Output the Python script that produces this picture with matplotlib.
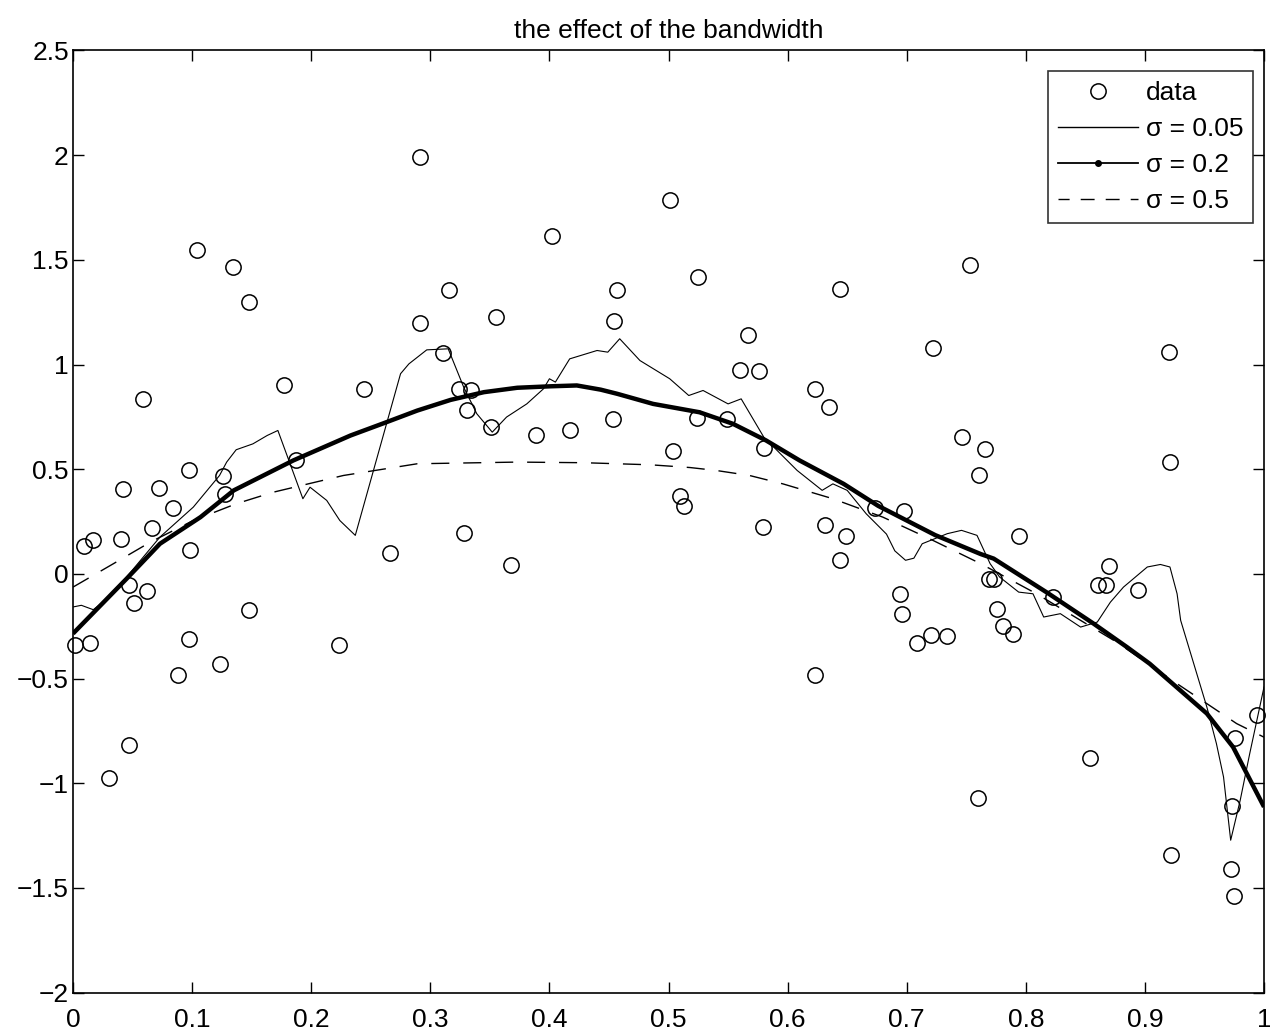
import matplotlib
matplotlib.use("Agg")
from matplotlib import pyplot as plt
from matplotlib.lines import Line2D

plt.rcParams['font.family'] = ['Liberation Sans', 'DejaVu Sans']

# noisy observations
data_x = [0.002, 0.009, 0.014, 0.017, 0.030, 0.040, 0.042, 0.047, 0.047, 0.051,
          0.059, 0.062, 0.066, 0.072, 0.084, 0.088, 0.097, 0.097, 0.098, 0.104,
          0.123, 0.126, 0.128, 0.134, 0.148, 0.148, 0.177, 0.187, 0.223, 0.244,
          0.266, 0.291, 0.291, 0.311, 0.316, 0.324, 0.328, 0.331, 0.334, 0.351,
          0.355, 0.368, 0.389, 0.402, 0.417, 0.453, 0.454, 0.457, 0.501, 0.504,
          0.510, 0.513, 0.524, 0.525, 0.549, 0.560, 0.567, 0.576, 0.579, 0.580,
          0.623, 0.623, 0.631, 0.635, 0.644, 0.644, 0.649, 0.673, 0.694, 0.696,
          0.698, 0.709, 0.720, 0.722, 0.734, 0.746, 0.753, 0.760, 0.761, 0.766,
          0.769, 0.773, 0.776, 0.781, 0.789, 0.794, 0.823, 0.854, 0.861, 0.867,
          0.870, 0.894, 0.920, 0.921, 0.922, 0.972, 0.973, 0.975, 0.976, 0.994]
data_y = [-0.341, 0.131, -0.330, 0.163, -0.973, 0.165, 0.407, -0.052, -0.819, -0.138,
          0.834, -0.084, 0.219, 0.410, 0.314, -0.481, 0.497, -0.310, 0.112, 1.548,
          -0.429, 0.467, 0.383, 1.468, 1.297, -0.171, 0.900, 0.542, -0.338, 0.882,
          0.099, 1.990, 1.197, 1.054, 1.357, 0.882, 0.195, 0.784, 0.876, 0.701,
          1.226, 0.041, 0.663, 1.612, 0.688, 0.741, 1.207, 1.358, 1.788, 0.585,
          0.371, 0.324, 0.746, 1.417, 0.741, 0.976, 1.142, 0.967, 0.224, 0.601,
          0.881, -0.484, 0.233, 0.798, 1.360, 0.066, 0.179, 0.316, -0.095, -0.193,
          0.302, -0.329, -0.290, 1.078, -0.297, 0.653, 1.476, -1.068, 0.472, 0.596,
          -0.023, -0.023, -0.168, -0.249, -0.289, 0.179, -0.111, -0.879, -0.052, -0.052,
          0.037, -0.079, 1.062, 0.534, -1.344, -1.410, -1.108, -1.538, -0.782, -0.675]

# sigma = 0.05 smoother
s005_x = [0.000, 0.007, 0.017, 0.025, 0.045, 0.073, 0.101, 0.123, 0.129, 0.137,
          0.151, 0.163, 0.172, 0.193, 0.199, 0.213, 0.224, 0.237, 0.275, 0.282,
          0.297, 0.315, 0.328, 0.339, 0.352, 0.364, 0.381, 0.395, 0.400, 0.405,
          0.417, 0.440, 0.449, 0.459, 0.476, 0.501, 0.517, 0.529, 0.550, 0.561,
          0.580, 0.608, 0.629, 0.638, 0.650, 0.666, 0.683, 0.690, 0.699, 0.706,
          0.713, 0.720, 0.734, 0.746, 0.759, 0.770, 0.778, 0.794, 0.806, 0.815,
          0.829, 0.846, 0.860, 0.871, 0.882, 0.902, 0.913, 0.921, 0.927, 0.930,
          0.941, 0.952, 0.960, 0.966, 0.972, 0.980, 0.988, 1.000]
s005_y = [-0.158, -0.150, -0.171, -0.135, -0.015, 0.176, 0.319, 0.470, 0.534, 0.593,
          0.621, 0.661, 0.685, 0.359, 0.414, 0.351, 0.255, 0.184, 0.956, 1.003,
          1.070, 1.075, 0.892, 0.765, 0.677, 0.749, 0.812, 0.884, 0.932, 0.916,
          1.027, 1.067, 1.059, 1.123, 1.019, 0.932, 0.852, 0.876, 0.812, 0.836,
          0.653, 0.494, 0.399, 0.430, 0.399, 0.287, 0.190, 0.110, 0.065, 0.075,
          0.144, 0.160, 0.192, 0.208, 0.184, 0.049, -0.015, -0.087, -0.095, -0.206,
          -0.190, -0.254, -0.230, -0.135, -0.063, 0.033, 0.045, 0.033, -0.095, -0.222,
          -0.429, -0.636, -0.810, -0.970, -1.272, -1.081, -0.858, -0.540]

# sigma = 0.2 smoother
s02_x = [0.000, 0.045, 0.073, 0.107, 0.135, 0.185, 0.233, 0.261, 0.289, 0.317,
         0.345, 0.373, 0.401, 0.423, 0.443, 0.457, 0.487, 0.526, 0.554, 0.582,
         0.610, 0.647, 0.676, 0.724, 0.762, 0.773, 0.818, 0.857, 0.885, 0.904,
         0.952, 0.974, 1.000]
s02_y = [-0.285, -0.023, 0.144, 0.271, 0.399, 0.542, 0.661, 0.720, 0.780, 0.831,
         0.868, 0.889, 0.896, 0.900, 0.880, 0.860, 0.812, 0.772, 0.717, 0.637,
         0.542, 0.430, 0.325, 0.185, 0.095, 0.073, -0.090, -0.238, -0.350, -0.429,
         -0.667, -0.827, -1.113]

# sigma = 0.5 smoother
s05_x = [0.000, 0.034, 0.065, 0.101, 0.137, 0.168, 0.227, 0.289, 0.373, 0.429,
         0.485, 0.518, 0.540, 0.568, 0.596, 0.638, 0.680, 0.722, 0.762, 0.809,
         0.876, 0.929, 0.977, 1.000]
s05_y = [-0.063, 0.049, 0.152, 0.255, 0.335, 0.390, 0.470, 0.526, 0.534, 0.531,
         0.521, 0.508, 0.494, 0.470, 0.430, 0.359, 0.271, 0.160, 0.049, -0.095,
         -0.325, -0.532, -0.715, -0.780]

x_ticks = [0, 0.1, 0.2, 0.3, 0.4, 0.5, 0.6, 0.7, 0.8, 0.9, 1]
x_tick_labels = ['0', '0.1', '0.2', '0.3', '0.4', '0.5', '0.6', '0.7', '0.8', '0.9', '1']
y_ticks = [-2, -1.5, -1, -0.5, 0, 0.5, 1, 1.5, 2, 2.5]
y_tick_labels = ['\u22122', '\u22121.5', '\u22121', '\u22120.5', '0', '0.5', '1', '1.5', '2', '2.5']

fs = 19
dash = (0, (13, 10))

fig = plt.figure(figsize=(12.7, 10.34), dpi=100)
ax = fig.add_axes([0.0575, 0.040, 0.9378, 0.9112])

ax.plot(data_x, data_y, 'o', color='black', markerfacecolor='none',
        markersize=11, markeredgewidth=1.1, clip_on=False)
ax.plot(s005_x, s005_y, color='black', lw=0.8)
ax.plot(s02_x, s02_y, color='black', lw=3.2, solid_capstyle='butt')
ax.plot(s05_x, s05_y, color='black', lw=1.0, linestyle=dash)

ax.set_xlim(0, 1)
ax.set_ylim(-2, 2.5)
ax.set_xticks(x_ticks)
ax.set_xticklabels(x_tick_labels)
ax.set_yticks(y_ticks)
ax.set_yticklabels(y_tick_labels)
ax.tick_params(direction='in', top=True, right=True, length=8, width=1,
               labelsize=fs, colors='black')
ax.tick_params(axis='x', pad=11)
ax.tick_params(axis='y', pad=3)
for sp in ax.spines.values():
    sp.set_linewidth(1.2)

ax.set_title('the effect of the bandwidth', fontsize=fs, pad=9)

handles = [
    Line2D([], [], linestyle='none', marker='o', color='black', markerfacecolor='none',
           markersize=11, markeredgewidth=1.1),
    Line2D([], [], color='black', lw=1.0),
    Line2D([], [], color='black', lw=1.3, marker='.', markersize=8),
    Line2D([], [], color='black', lw=1.0, linestyle=(2, (10, 8))),
]
labels = ['data', '\u03c3 = 0.05', '\u03c3 = 0.2', '\u03c3 = 0.5']
leg = ax.legend(handles, labels, loc='upper right', bbox_to_anchor=(0.9908, 0.978),
                borderaxespad=0, fontsize=fs, frameon=True, fancybox=False,
                handlelength=3.0, handletextpad=0.3, labelspacing=0.45,
                borderpad=0.38, markerscale=1.0)
leg.get_frame().set_edgecolor('black')
leg.get_frame().set_linewidth(1.2)

fig.savefig('out.png', dpi=100)
